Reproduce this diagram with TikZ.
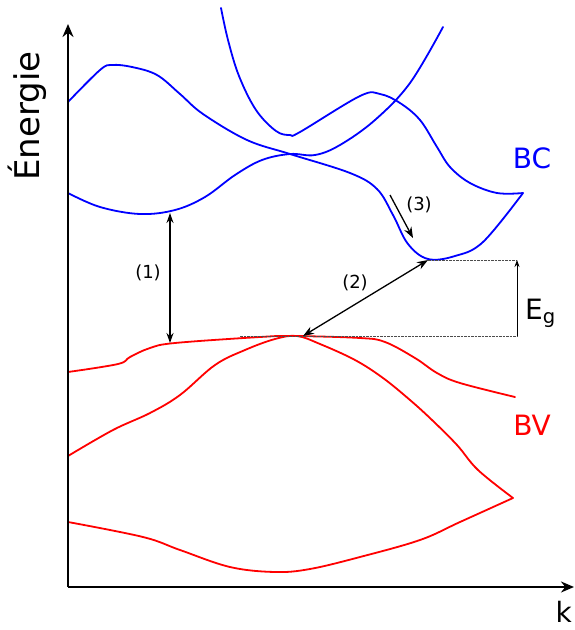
\documentclass[tikz,border=0pt]{standalone}
\usepackage{fontspec}
\setmainfont{DejaVu Sans}
\usetikzlibrary{arrows.meta}
\definecolor{bandblue}{RGB}{0,0,255}
\definecolor{bandred}{RGB}{255,0,0}
\tikzset{
  cband/.style={draw=bandblue, line width=1.8pt, line join=round, line cap=round},
  vband/.style={draw=bandred, line width=1.8pt, line join=round, line cap=round},
  axisline/.style={draw=black, line width=2.6pt, -{Stealth[length=13pt,width=11pt]}},
  transarrow/.style={draw=black, line width=1.3pt},
  gaparrow/.style={draw=black, line width=0.8pt, -{Stealth[length=7pt,width=5pt]}},
  guide/.style={draw=black!70, line width=0.8pt, dash pattern=on 2.5pt off 1pt},
  bigtxt/.style={font=\fontsize{34}{40}\selectfont, inner sep=0pt},
  bandtxt/.style={font=\fontsize{28}{32}\selectfont, inner sep=0pt},
  numtxt/.style={font=\fontsize{18}{21}\selectfont, inner sep=0pt}
}
\begin{document}
\begin{tikzpicture}[x=1pt,y=-1pt]
\useasboundingbox (0,0) rectangle (574,630);
% conduction bands
\draw[cband] plot[smooth, tension=0.6] coordinates {(68,102) (100,70) (112,65) (132,67) (157,75) (180,94) (203,114) (247,140) (290,154) (350,173) (377,189) (393,215) (408,244) (428,259) (455,256) (483,242) (523,193)};
\draw[cband] plot[smooth, tension=0.6] coordinates {(523,193) (497,193) (470,183) (450,167) (437,147) (420,120) (400,103) (380,94) (360,96) (300,132) (290,135) (276,131) (256,110) (239,76) (228,40) (221,8)};
\draw[cband] plot[smooth, tension=0.6] coordinates {(68,193) (100,207) (140,214) (175,210) (205,197) (235,175) (262,160) (290,154) (315,155) (340,145) (375,120) (410,83) (443,27)};
% valence bands
\draw[vband] plot[smooth, tension=0.6] coordinates {(68,372) (118,364) (130,357) (150,348) (175,343) (260,337) (293,336) (360,338) (385,342) (415,358) (437,373) (460,383) (515,397)};
\draw[vband] plot[smooth, tension=0.6] coordinates {(68,456) (113,430) (150,413) (180,395) (215,365) (245,350) (275,339) (297,336) (320,344) (355,360) (383,378) (410,400) (432,420) (457,445) (478,470) (513,498)};
\draw[vband] plot[smooth, tension=0.6] coordinates {(68,522) (143,537) (180,550) (230,567) (275,572) (310,569) (360,557) (420,540) (460,522) (513,498)};
% axes
\coordinate (origin) at (68,587);
\coordinate (ytop) at (68,24);
\coordinate (xend) at (574,587);
\draw[axisline] (origin) -- (ytop);
\draw[axisline] (origin) -- (xend);
\node[bigtxt, rotate=90] (energie) at (27,116) {Énergie};
\node[font=\fontsize{28}{32}\selectfont, inner sep=0pt, anchor=east] (klab) at (572,612) {k};
% transitions
\coordinate (t1a) at (170,213);
\coordinate (t1b) at (170,343);
\coordinate (vbmax) at (303,336);
\coordinate (cbmin) at (428,260);
\coordinate (t3a) at (390,195);
\coordinate (t3b) at (413,238);
\coordinate (dl) at (240,336);
\coordinate (dr) at (517,336);
\coordinate (ur) at (517,260);
\draw[guide] (dl) -- (dr);
\draw[guide] (cbmin) -- (ur);
\draw[gaparrow] (dr) -- (ur);
\draw[transarrow, {Stealth[length=10pt,width=7pt]}-{Stealth[length=10pt,width=7pt]}] (t1a) -- (t1b);
\draw[transarrow, {Stealth[length=11pt,width=8pt]}-{Stealth[length=11pt,width=8pt]}] (vbmax) -- (cbmin);
\draw[transarrow, -{Stealth[length=11pt,width=8pt]}] (t3a) -- (t3b);
\node[numtxt] (l1) at (148,273) {(1)};
\node[numtxt] (l2) at (355,283) {(2)};
\node[numtxt] (l3) at (419,205) {(3)};
\node[bandtxt, text=bandblue] (bc) at (532,158) {BC};
\node[bandtxt, text=bandred] (bv) at (532,425) {BV};
\node[bandtxt, anchor=west] (eg) at (525,313) {E\textsubscript{g}};
\end{tikzpicture}
\end{document}
